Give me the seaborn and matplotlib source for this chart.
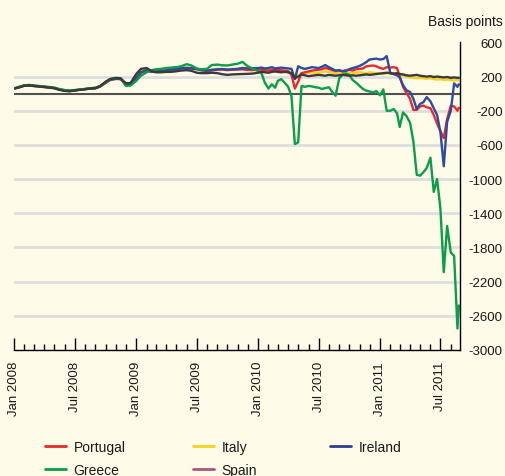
import matplotlib
matplotlib.use("Agg")
import matplotlib.pyplot as plt
import matplotlib.dates as mdates
from matplotlib.lines import Line2D
import pandas as pd
import seaborn as sns

# dates: half-monthly for 2008-09, then every ten days from 2010
early_dates = pd.date_range("2008-01-01", "2009-12-15", freq="SMS")
late_months = [(2010, m) for m in range(1, 13)] + [(2011, m) for m in range(1, 9)]
late_dates = pd.to_datetime([f"{y}-{m:02d}-{d:02d}" for y, m in late_months for d in (1, 11, 21)]
                            + ["2011-08-25"])

# basis points
portugal_early = [60, 74, 94, 96, 88, 84, 76, 70, 62, 48, 36, 30, 38, 45, 52, 58, 62, 84, 125, 160,
                  172, 170, 110, 105, 180, 245, 270, 255, 255, 262, 270, 278, 285, 295, 298, 295,
                  285, 275, 265, 272, 280, 282, 275, 280, 282, 285, 278, 275]
portugal_late = [285, 280, 275, 270, 280, 275, 280, 275, 270, 265, 220, 60, 140, 240, 250,
                 260, 270, 275, 280, 285, 300, 290, 275, 265, 270, 265, 275, 280, 270, 285,
                 290, 295, 320, 325, 330, 320, 300, 290, 310, 305, 310, 300, 200, 80, 10,
                 -60, -190, -190, -150, -140, -160, -170, -250, -350, -440, -520, -300,
                 -140, -150, -200, -165]

italy_early = [62, 80, 100, 100, 94, 88, 82, 76, 68, 52, 40, 34, 40, 46, 54, 62, 66, 86, 130, 165,
               178, 175, 115, 110, 190, 260, 285, 265, 265, 270, 278, 285, 290, 300, 305, 300,
               290, 280, 275, 280, 290, 290, 285, 288, 292, 295, 288, 280]
italy_late = [270, 265, 260, 265, 270, 265, 270, 265, 260, 255, 240, 200, 215, 240, 235,
              245, 250, 240, 245, 250, 260, 255, 245, 240, 245, 240, 250, 245, 240, 245,
              250, 245, 240, 250, 245, 240, 235, 230, 240, 235, 225, 220, 215, 210, 200,
              190, 185, 180, 185, 180, 175, 180, 170, 165, 170, 160, 165, 160, 155, 160, 155]

ireland_early = [60, 75, 95, 98, 92, 86, 80, 74, 66, 50, 38, 32, 40, 46, 54, 60, 65, 85, 128, 162,
                 175, 172, 112, 108, 185, 250, 275, 258, 260, 265, 272, 282, 288, 300, 302, 298,
                 290, 275, 270, 278, 285, 288, 282, 285, 290, 300, 295, 298]
ireland_late = [300, 305, 295, 300, 310, 295, 300, 305, 300, 295, 290, 170, 320, 300, 290,
                300, 310, 305, 300, 315, 335, 310, 290, 270, 275, 260, 265, 285, 300, 310,
                325, 345, 370, 400, 405, 410, 400, 405, 440, 240, 230, 215, 190, 100, 40,
                20, -60, -180, -120, -100, -40, -90, -170, -250, -450, -850, -330,
                -200, 120, 80, 110]

greece_early = [58, 78, 98, 102, 95, 90, 84, 78, 70, 55, 42, 36, 42, 48, 56, 64, 70, 90, 130, 170,
                185, 180, 90, 95, 150, 210, 250, 275, 285, 290, 300, 305, 310, 320, 345, 330,
                295, 285, 290, 335, 340, 332, 330, 340, 350, 372, 320, 295]
greece_late = [265, 240, 130, 60, 110, 70, 150, 170, 130, 80, -30, -590, -570, 90, 80,
               90, 85, 75, 70, 55, 65, 75, 20, -24, 180, 220, 235, 220, 160, 130,
               90, 55, 35, 25, 15, 30, -20, 50, -200, -200, -180, -230, -390, -220, -260,
               -340, -560, -950, -960, -920, -870, -750, -1150, -1000, -1350, -2090, -1550,
               -1860, -1900, -2750, -2480]

spain_early = [60, 72, 92, 98, 90, 85, 78, 72, 65, 45, 32, 28, 38, 44, 52, 60, 65, 88, 140, 172,
               182, 180, 120, 125, 230, 290, 300, 265, 250, 250, 255, 255, 262, 270, 275, 268,
               245, 240, 240, 245, 240, 228, 220, 225, 228, 230, 232, 235]
spain_late = [245, 255, 250, 245, 255, 260, 255, 250, 255, 250, 240, 180, 200, 225, 215,
              205, 210, 215, 220, 215, 210, 220, 215, 210, 215, 220, 215, 210, 215, 210,
              215, 220, 225, 220, 225, 230, 235, 240, 245, 240, 235, 240, 230, 225, 215,
              210, 215, 220, 210, 205, 200, 205, 195, 200, 195, 190, 195, 185, 190, 185, 185]

series = {
    "Italy": italy_early + italy_late,
    "Portugal": portugal_early + portugal_late,
    "Ireland": ireland_early + ireland_late,
    "Greece": greece_early + greece_late,
    "Spain": spain_early + spain_late,
}
dates = list(early_dates) + list(late_dates)
df = pd.concat([pd.DataFrame({"date": dates, "bp": v, "country": k}) for k, v in series.items()])

line_colors = {"Portugal": "#E8282E", "Italy": "#F6D21A", "Ireland": "#2F4A9E",
               "Greece": "#0A9E48", "Spain": "#3A3A3A"}
legend_colors = {"Portugal": "#E8282E", "Italy": "#F6D21A", "Ireland": "#2F3D94",
                 "Greece": "#0A9E48", "Spain": "#A8587F"}

bg = "#FEFBE8"
yticks = [600, 200, -200, -600, -1000, -1400, -1800, -2200, -2600, -3000]

sns.set_theme(style="white")
plt.rcParams["font.family"] = ["Liberation Sans", "DejaVu Sans"]

fig = plt.figure(figsize=(5.06, 4.77), dpi=100, facecolor=bg)
ax = fig.add_axes([0.0277, 0.2644, 0.881, 0.6446])
ax.set_facecolor(bg)

for y in yticks[1:-1]:
    ax.axhline(y, color="#DEDEDE", lw=2, zorder=0)
ax.axhline(0, color="#505050", lw=1.5, zorder=1)

sns.lineplot(data=df, x="date", y="bp", hue="country", hue_order=list(series.keys()),
             palette=line_colors, linewidth=1.7, legend=False, ax=ax, zorder=2)

ax.set_xlim(pd.Timestamp("2008-01-01"), pd.Timestamp("2011-08-28"))
ax.set_ylim(-3000, 600)
ax.set_xlabel("")
ax.set_ylabel("")

for s in ["left", "top"]:
    ax.spines[s].set_visible(False)
for s in ["right", "bottom"]:
    ax.spines[s].set_color("black")
    ax.spines[s].set_linewidth(1)

ax.yaxis.tick_right()
ax.set_yticks(yticks)
ax.set_yticklabels([str(t) for t in yticks])
ax.tick_params(axis="y", length=0, pad=31, labelsize=9.5, labelcolor="#1A1A1A")
for lbl in ax.get_yticklabels():
    lbl.set_horizontalalignment("right")

ax.xaxis.set_major_locator(mdates.MonthLocator(bymonth=[1, 7]))
ax.xaxis.set_minor_locator(mdates.MonthLocator())
ax.xaxis.set_major_formatter(mdates.DateFormatter("%b %Y"))
ax.tick_params(axis="x", which="major", direction="in", length=9, width=1, color="black",
               pad=8, labelsize=9.5, labelrotation=90, labelcolor="#1A1A1A", bottom=True)
ax.tick_params(axis="x", which="minor", direction="in", length=4, width=1, color="black",
               bottom=True)

fig.text(503 / 506, 1 - 21.7 / 477, "Basis points", ha="right", va="center",
         fontsize=10, color="#1A1A1A")

# legend: three fixed columns
legend_pos = {"Portugal": (45, 448), "Italy": (193, 448), "Ireland": (330, 448),
              "Greece": (45, 471), "Spain": (193, 471)}
for name, (px, py) in legend_pos.items():
    h = Line2D([], [], color=legend_colors[name], lw=2)
    fig.legend([h], [name], loc="center left", bbox_to_anchor=(px / 506, 1 - py / 477),
               frameon=False, borderpad=0, borderaxespad=0, handlelength=1.5,
               handletextpad=0.55, fontsize=10, labelcolor="#1A1A1A")

fig.savefig("out.png", dpi=100, facecolor=bg)
